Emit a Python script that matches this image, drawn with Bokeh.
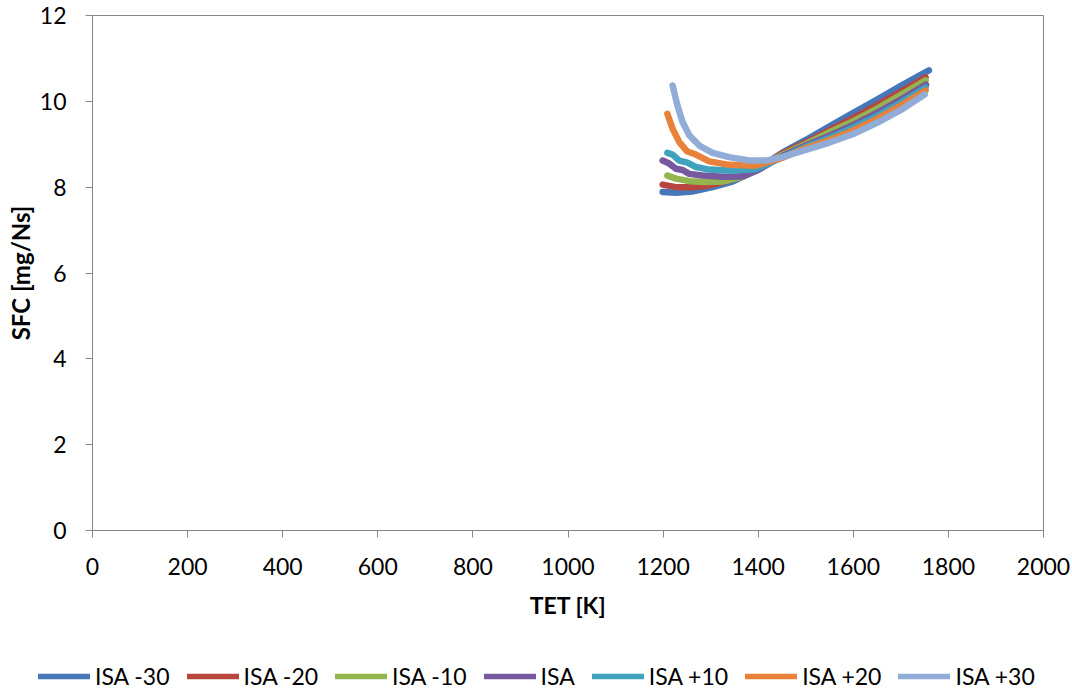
from bokeh.plotting import figure
from bokeh.models import Range1d, Legend, LegendItem, FixedTicker
from bokeh.embed import file_html
from bokeh.resources import INLINE

series_names = ["ISA -30", "ISA -20", "ISA -10", "ISA", "ISA +10", "ISA +20", "ISA +30"]
colors = ["#4677B8", "#B8463F", "#93B44F", "#76599E", "#40A2BD", "#E8823A", "#91ACD6"]

tet_m30 = [1199, 1227, 1261, 1304, 1346, 1388, 1416, 1450, 1500, 1550, 1600, 1650, 1700, 1759]
sfc_m30 = [7.89, 7.87, 7.90, 8.00, 8.13, 8.35, 8.55, 8.80, 9.10, 9.42, 9.73, 10.04, 10.36, 10.72]

tet_m20 = [1199, 1227, 1262, 1297, 1339, 1381, 1420, 1450, 1500, 1550, 1600, 1650, 1700, 1752]
sfc_m20 = [8.06, 8.00, 8.00, 8.04, 8.16, 8.35, 8.58, 8.78, 9.04, 9.33, 9.61, 9.91, 10.22, 10.56]

tet_m10 = [1209, 1227, 1255, 1290, 1325, 1367, 1400, 1450, 1500, 1550, 1600, 1650, 1700, 1752]
sfc_m10 = [8.27, 8.20, 8.14, 8.12, 8.13, 8.24, 8.45, 8.75, 9.01, 9.28, 9.54, 9.83, 10.15, 10.49]

tet_isa = [1199, 1213, 1227, 1241, 1255, 1283, 1325, 1367, 1400, 1450, 1500, 1550, 1600, 1650, 1700, 1753]
sfc_isa = [8.62, 8.55, 8.43, 8.40, 8.31, 8.27, 8.24, 8.25, 8.40, 8.72, 8.97, 9.20, 9.45, 9.73, 10.04, 10.39]

tet_p10 = [1209, 1220, 1234, 1251, 1269, 1297, 1346, 1395, 1450, 1500, 1550, 1600, 1650, 1700, 1752]
sfc_p10 = [8.80, 8.76, 8.62, 8.57, 8.47, 8.41, 8.38, 8.42, 8.69, 8.94, 9.15, 9.39, 9.66, 9.97, 10.32]

tet_p20 = [1209, 1220, 1234, 1251, 1269, 1297, 1339, 1395, 1450, 1500, 1550, 1600, 1650, 1700, 1752]
sfc_p20 = [9.71, 9.36, 9.05, 8.83, 8.76, 8.60, 8.52, 8.50, 8.68, 8.91, 9.10, 9.32, 9.59, 9.90, 10.25]

tet_p30 = [1220, 1230, 1241, 1255, 1276, 1304, 1339, 1381, 1416, 1450, 1500, 1550, 1600, 1650, 1700, 1750]
sfc_p30 = [10.37, 9.91, 9.52, 9.21, 8.97, 8.80, 8.70, 8.62, 8.62, 8.70, 8.87, 9.04, 9.24, 9.50, 9.80, 10.16]

x_ticks = [0, 200, 400, 600, 800, 1000, 1200, 1400, 1600, 1800, 2000]
y_ticks = [0, 2, 4, 6, 8, 10, 12]

all_tet = [tet_m30, tet_m20, tet_m10, tet_isa, tet_p10, tet_p20, tet_p30]
all_sfc = [sfc_m30, sfc_m20, sfc_m10, sfc_isa, sfc_p10, sfc_p20, sfc_p30]

FONT = "Lato"
GRAY = "#868686"

p = figure(width=1072, height=640, output_backend="svg", toolbar_location=None,
           x_range=Range1d(0, 2000), y_range=Range1d(0, 12),
           min_border_left=92, min_border_right=29, min_border_top=15, min_border_bottom=110)

p.outline_line_color = GRAY
p.outline_line_width = 1
p.xgrid.visible = False
p.ygrid.visible = False

p.xaxis.ticker = FixedTicker(ticks=x_ticks)
p.yaxis.ticker = FixedTicker(ticks=y_ticks)
p.xaxis.axis_label = "TET [K]"
p.yaxis.axis_label = "SFC [mg/Ns]"
for ax in (p.xaxis, p.yaxis):
    ax.axis_line_color = GRAY
    ax.major_tick_line_color = GRAY
    ax.minor_tick_line_color = None
    ax.major_tick_in = 0
    ax.major_tick_out = 7
    ax.major_label_text_font = FONT
    ax.major_label_text_font_size = "23px"
    ax.major_label_text_color = "black"
    ax.axis_label_text_font = FONT
    ax.axis_label_text_font_style = "bold"
    ax.axis_label_text_color = "black"
p.xaxis.axis_label_text_font_size = "23px"
p.yaxis.axis_label_text_font_size = "24px"
p.xaxis.major_label_standoff = 20
p.xaxis.axis_label_standoff = 13
p.yaxis.major_label_standoff = 19
p.yaxis.axis_label_standoff = 2

for name, col, xs, ys in zip(series_names, colors, all_tet, all_sfc):
    p.line(xs, ys, line_color=col, line_width=6.5, line_cap="round", line_join="round")

# legend strip below the chart (its lines use the same data, outside its view)
p2 = figure(width=1072, height=50, output_backend="svg", toolbar_location=None,
            x_range=Range1d(0, 1), y_range=Range1d(0, 1),
            x_axis_location=None, y_axis_location=None,
            min_border_left=0, min_border_right=0, min_border_top=0, min_border_bottom=0)
p2.outline_line_color = None
p2.xgrid.visible = False
p2.ygrid.visible = False
items = []
for name, col, xs, ys in zip(series_names, colors, all_tet, all_sfc):
    r = p2.line(xs, ys, line_color=col, line_width=5.5, line_cap="round")
    items.append(LegendItem(label=name, renderers=[r]))
legend = Legend(items=items, orientation="horizontal", location=(38, 0),
                glyph_width=52, glyph_height=20, label_standoff=5, spacing=17,
                padding=0, margin=0, border_line_alpha=0, background_fill_alpha=0,
                label_text_font=FONT, label_text_font_size="23px", label_text_color="black")
p2.add_layout(legend, "center")

open("out.html", "w").write(file_html([p, p2], INLINE))
